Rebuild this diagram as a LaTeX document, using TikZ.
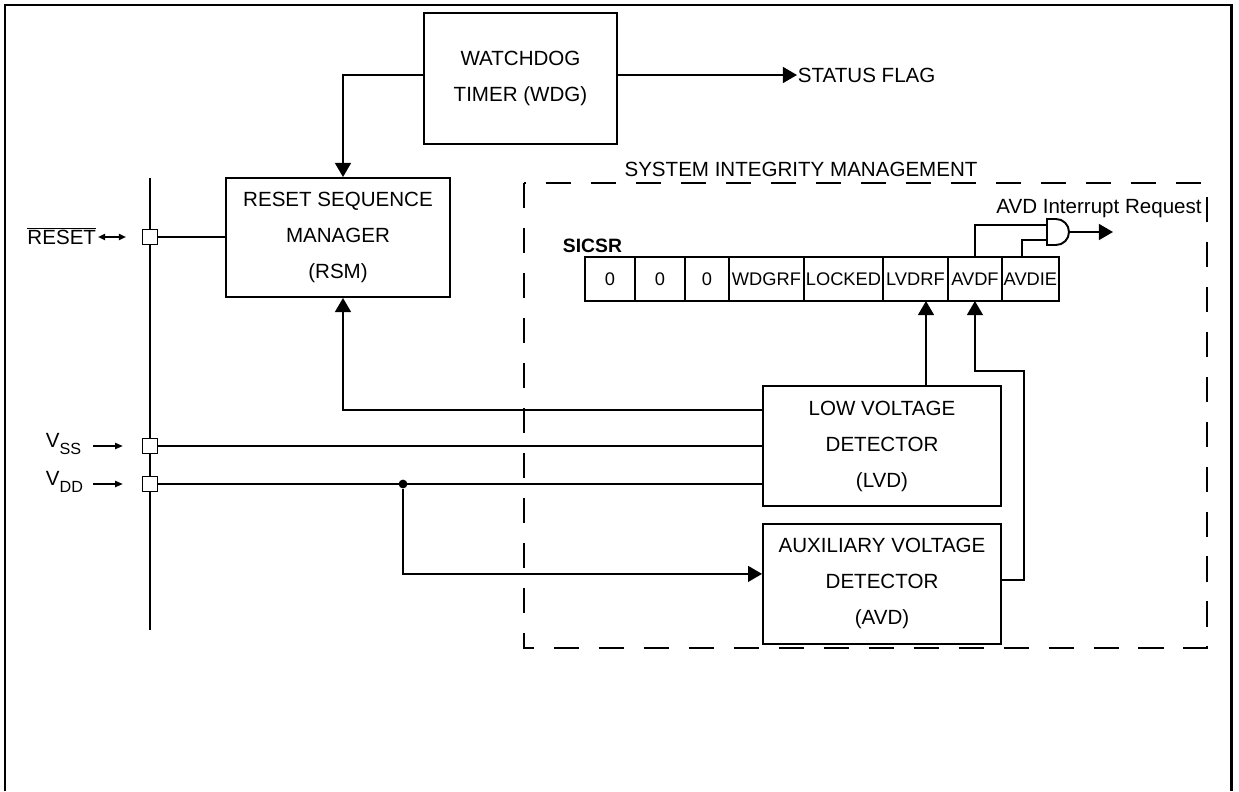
\documentclass[tikz,border=0pt]{standalone}
\usepackage{fontspec}
\setmainfont{Liberation Sans}
\usetikzlibrary{arrows.meta,positioning}

\newcommand{\blkfont}{\fontsize{11.7}{20.5}\selectfont}
\newcommand{\regfont}{\fontsize{10.4}{12}\selectfont}
\newcommand{\pinsub}[1]{\raisebox{-4pt}{\fontsize{9.2}{10}\selectfont #1}}

\begin{document}
\begin{tikzpicture}[x=0.02cm, y=-0.02cm, line width=1.1pt,
  every node/.style={font=\blkfont},
  blk/.style={rectangle, draw, align=center, inner sep=0pt},
  pin/.style={rectangle, draw, fill=white, minimum size=0.3cm, inner sep=0pt},
  reg/.style={rectangle, draw, minimum height=0.88cm, inner sep=0pt, outer sep=0pt, font=\regfont},
  arr/.style={-{Triangle[length=8pt,width=9pt]}},
  pinarr/.style={-{Triangle[length=4.5pt,width=3.4pt]}},
  rstarr/.style={{Triangle[length=4pt,width=3.4pt]}-{Triangle[length=4pt,width=3.4pt]}},
  dot/.style={circle, fill, inner sep=0pt, minimum size=5pt}]
\useasboundingbox (0,0) rectangle (1239,791);
% frame
\draw[line width=1.7pt] (5,791) -- (5,5) -- (1231,5) -- (1231,791);

% blocks
\node[blk, minimum width=3.86cm, minimum height=2.62cm] (wdg) at (520.5,78.5) {WATCHDOG\\TIMER (WDG)};
\node[blk, minimum width=4.48cm, minimum height=2.38cm] (rsm) at (338,237.5) {RESET SEQUENCE\\MANAGER\\(RSM)};
\node[blk, minimum width=4.76cm, minimum height=2.4cm] (lvd) at (882,446) {LOW VOLTAGE\\DETECTOR\\(LVD)};
\node[blk, minimum width=4.76cm, minimum height=2.4cm, below=0.32cm of lvd] (avd) {AUXILIARY VOLTAGE\\DETECTOR\\(AVD)};
\node[anchor=west, inner sep=0pt] (flag) at (797,75) {STATUS FLAG};

% system integrity management
\draw[dash pattern=on 14.3pt off 11.3pt] (524,183) rectangle (1207,648);
\node (simt) at (801,169) {SYSTEM INTEGRITY MANAGEMENT};

% SICSR register
\node[font={\fontsize{11}{13}\selectfont\bfseries}, anchor=base west, inner sep=0pt] (sicsr) at (562,252) {SICSR};
\node[reg, minimum width=1cm] (c0) at (610,279) {0};
\node[reg, minimum width=1cm, right=0pt of c0] (c1) {0};
\node[reg, minimum width=0.88cm, right=0pt of c1] (c2) {0};
\node[reg, minimum width=1.5cm, right=0pt of c2] (c3) {WDGRF};
\node[reg, minimum width=1.58cm, right=0pt of c3] (c4) {LOCKED};
\node[reg, minimum width=1.3cm, right=0pt of c4] (c5) {LVDRF};
\node[reg, minimum width=1.08cm, right=0pt of c5] (c6) {AVDF};
\node[reg, minimum width=1.14cm, right=0pt of c6] (c7) {AVDIE};

% AND gate
\draw (1047,219) -- (1056,219) arc[start angle=90, end angle=-90, radius=0.26cm] -- (1047,245) -- cycle;
\coordinate (andin1) at (1047,225);
\coordinate (andin2) at (1047,240);
\coordinate (andout) at (1069,232);
\node[anchor=base, inner sep=0pt] (irq) at (1099,213) {AVD Interrupt Request};

% pins
\coordinate (bustop) at (150,178);
\coordinate (busbot) at (150,630);
\draw (bustop) -- (busbot);
\node[pin] (rstpin) at (150,237) {};
\node[pin] (vsspin) at (150,446) {};
\node[pin] (vddpin) at (150,484) {};
\node[anchor=east, inner sep=0pt] (rstlbl) at (97,236) {$\overline{\mbox{RESET}}$};
\node[anchor=base west, inner sep=0pt] (vsslbl) at (45,447) {V\pinsub{SS}};
\node[anchor=base west, inner sep=0pt] (vddlbl) at (45,485) {V\pinsub{DD}};
\draw[rstarr] (rstlbl.east |- rstpin) ++(1,0) -- ++(28,0);
\draw[pinarr] (vsspin -| 93,0) -- ++(30,0);
\draw[pinarr] (vddpin -| 93,0) -- ++(30,0);

% connections
\draw (rstpin.east) -- (rstpin.east -| rsm.west);
\draw (vsspin.east) -- (vsspin.east -| lvd.west);
\draw (vddpin.east) -- (vddpin.east -| lvd.west);
\node[dot] (vddtap) at (403,484) {};
\draw[arr] (vddtap) |- ([yshift=0.2cm]avd.west);
\draw[arr] ([yshift=0.07cm]wdg.west) -| ([xshift=0.1cm]rsm.north);
\draw[arr] ([yshift=0.07cm]wdg.east) -- (flag.west);
\draw[arr] ([yshift=0.72cm]lvd.west) -| ([xshift=0.1cm]rsm.south);
\coordinate (lvdup) at ([xshift=0.88cm]lvd.north);
\draw[arr] (lvdup) -- (lvdup |- c5.south);
\draw[arr] ([yshift=0.08cm]avd.east) -| ++(22,-209) -| (c6.south);
\draw (c6.north) |- (andin1);
\coordinate (avdieup) at ([xshift=-0.17cm]c7.north);
\draw (avdieup) |- (andin2);
\draw[arr] (andout) -- ++(44,0);
\end{tikzpicture}
\end{document}
